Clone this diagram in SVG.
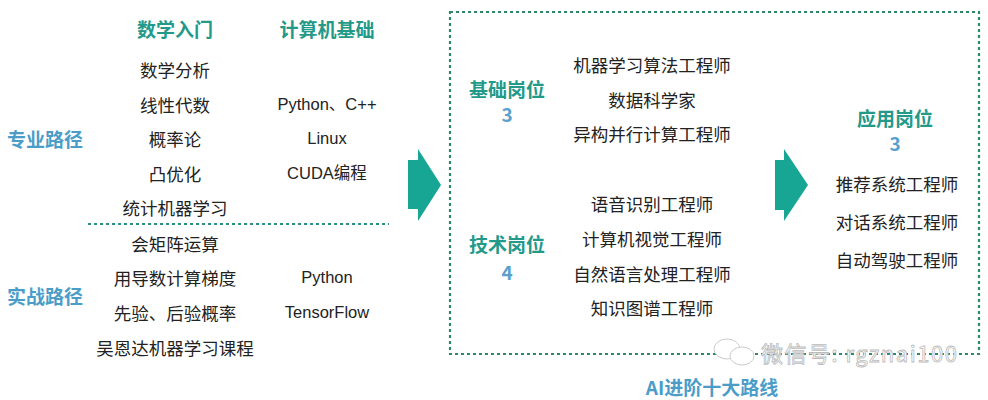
<svg xmlns="http://www.w3.org/2000/svg" width="988" height="400" viewBox="0 0 988 400">
<style>
text{font-family:"Noto Sans CJK SC","Liberation Sans",sans-serif;text-anchor:middle;dominant-baseline:central}
.h{font-size:19px;font-weight:bold;fill:#23998a}
.p{font-size:19px;font-weight:bold;fill:#4b9dc8}
.n{font-size:19px;font-weight:bold;fill:#5a9fcd}
.t{font-size:17.5px;fill:#222}
.e{font-family:"Liberation Sans","Noto Sans CJK SC",sans-serif;font-size:16.5px;fill:#222}
.arrow{fill:#17a594}
.dash{fill:none;stroke:#2e8a66;stroke-width:2.2;stroke-dasharray:3 3}
.wm{font-size:22px;fill:#fff;stroke:#bbb;stroke-width:0.8;text-anchor:start;letter-spacing:1.5px}
</style>
<rect width="988" height="400" fill="#fff"/>
<g id="connectors">
<line class="dash" x1="88" y1="224" x2="389" y2="224" style="stroke:#2a8f80"/>
<polygon class="arrow" points="408,160 418,160 418,149 441,185 418,221 418,209 408,209"/>
<polygon class="arrow" points="775,160 784,160 784,149 808,185 784,221 784,210 775,210"/>
</g>
<g id="frame">
<rect class="dash" x="450" y="12" width="529" height="342"/>
</g>
<g id="math">
<text class="h" x="175" y="28">数学入门</text>
<text class="t" x="175" y="69">数学分析</text>
<text class="t" x="175" y="104">线性代数</text>
<text class="t" x="175" y="138">概率论</text>
<text class="t" x="175" y="173">凸优化</text>
<text class="t" x="175" y="207">统计机器学习</text>
</g>
<g id="cs">
<text class="h" x="327" y="28">计算机基础</text>
<text class="e" x="327" y="104">Python、C++</text>
<text class="e" x="327" y="138">Linux</text>
<text class="e" x="327" y="173">CUDA编程</text>
</g>
<g id="pro-path">
<text class="p" x="45" y="138">专业路径</text>
</g>
<g id="practice-path">
<text class="p" x="45" y="295">实战路径</text>
</g>
<g id="practice-math">
<text class="t" x="175" y="243">会矩阵运算</text>
<text class="t" x="175" y="277">用导数计算梯度</text>
<text class="t" x="175" y="312">先验、后验概率</text>
<text class="t" x="175" y="347">吴恩达机器学习课程</text>
</g>
<g id="practice-cs">
<text class="e" x="327" y="277">Python</text>
<text class="e" x="327" y="312">TensorFlow</text>
</g>
<g id="basic-jobs">
<text class="h" x="507" y="88">基础岗位</text>
<text class="n" x="507" y="113">3</text>
<text class="t" x="652" y="64">机器学习算法工程师</text>
<text class="t" x="652" y="99">数据科学家</text>
<text class="t" x="652" y="133">异构并行计算工程师</text>
</g>
<g id="tech-jobs">
<text class="h" x="507" y="243">技术岗位</text>
<text class="n" x="507" y="271">4</text>
<text class="t" x="652" y="203">语音识别工程师</text>
<text class="t" x="652" y="238">计算机视觉工程师</text>
<text class="t" x="652" y="273">自然语言处理工程师</text>
<text class="t" x="652" y="307">知识图谱工程师</text>
</g>
<g id="app-jobs">
<text class="h" x="895" y="117">应用岗位</text>
<text class="n" x="895" y="142">3</text>
<text class="t" x="897" y="183">推荐系统工程师</text>
<text class="t" x="897" y="221">对话系统工程师</text>
<text class="t" x="897" y="259">自动驾驶工程师</text>
</g>
<g id="title">
<text class="p" x="712" y="386">AI进阶十大路线</text>
</g>
<g id="watermark">
<ellipse cx="727" cy="349" rx="13" ry="10" fill="#fff" stroke="#ccc" stroke-width="1"/>
<ellipse cx="742" cy="356" rx="12" ry="9" fill="#fff" stroke="#ccc" stroke-width="1"/>
<text class="wm" x="761" y="352">微信号: rgznai100</text>
</g>
</svg>
